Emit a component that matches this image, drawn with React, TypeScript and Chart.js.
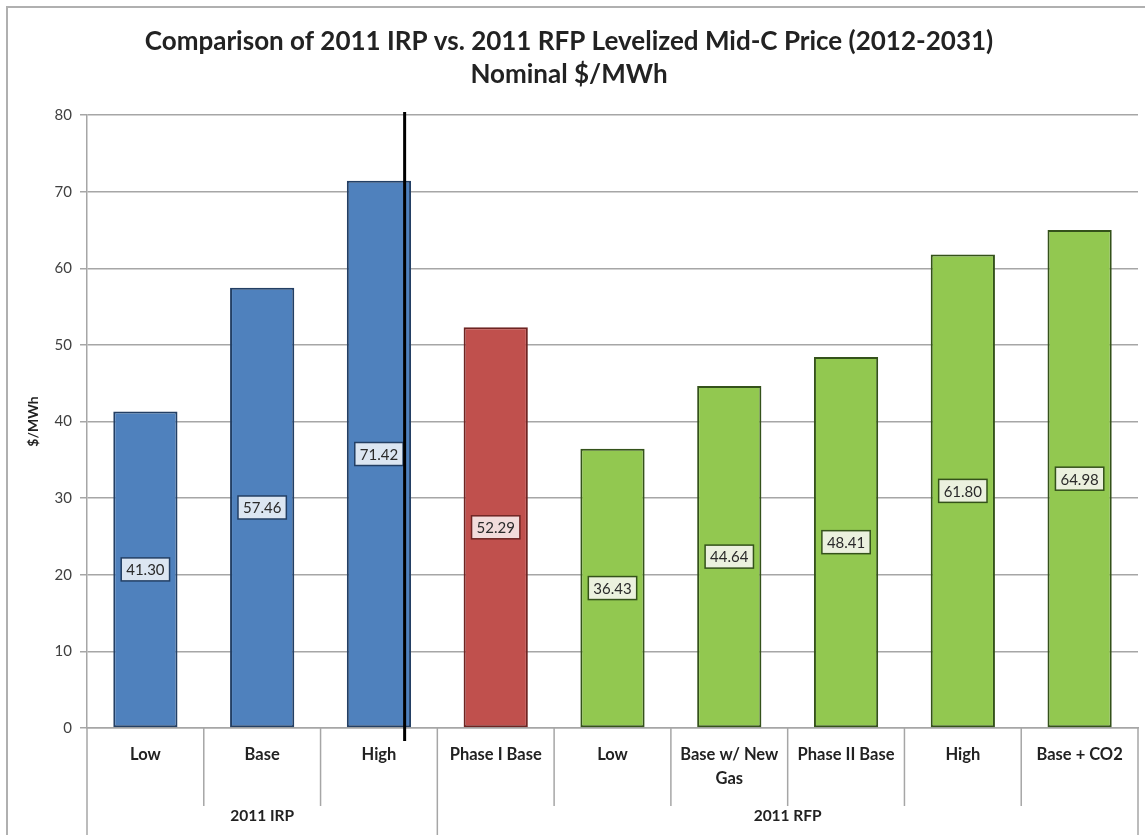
import React, { useEffect, useRef } from "react";
import { Chart, registerables } from "chart.js";

Chart.register(...registerables);

// ---------- data ----------
const TITLE_LINES = [
  "Comparison of 2011 IRP vs. 2011 RFP Levelized Mid-C Price (2012-2031)",
  "Nominal $/MWh",
];
const Y_TITLE = "$/MWh";
const CATEGORIES: (string | string[])[] = [
  "Low",
  "Base",
  "High",
  "Phase I Base",
  "Low",
  ["Base w/ New", "Gas"],
  "Phase II Base",
  "High",
  "Base + CO2",
];
const VALUES = [41.3, 57.46, 71.42, 52.29, 36.43, 44.64, 48.41, 61.8, 64.98];
const GROUP_LABELS = ["2011 IRP", "2011 RFP"];
const GROUP_SIZES = [3, 6];
const Y_MIN = 0;
const Y_MAX = 80;
const Y_STEP = 10;
// vertical divider, in category units
const DIVIDER_AT = 2.22;

// ---------- styles ----------
const W = 1145;
const H = 835;
const FONT = "Lato, 'Open Sans', sans-serif";
const BLUE = "#4f81bd";
const RED = "#c0504d";
const GREEN = "#92c850";
const BAR_FILLS = [BLUE, BLUE, BLUE, RED, GREEN, GREEN, GREEN, GREEN, GREEN];
const BAR_BORDERS = [
  "#233f64", "#233f64", "#233f64", "#6e2422",
  "#34521a", "#34521a", "#34521a", "#34521a", "#34521a",
];
const LABEL_FILLS = [
  "#dce6f2", "#dce6f2", "#dce6f2", "#f2dcdb",
  "#ebf1de", "#ebf1de", "#ebf1de", "#ebf1de", "#ebf1de",
];
const GRID = "#a6a6a6";

const framePlugin = {
  id: "frame",
  beforeDraw(chart: any) {
    const ctx = chart.ctx;
    ctx.save();
    ctx.fillStyle = "#ffffff";
    ctx.fillRect(0, 0, chart.width, chart.height);
    ctx.strokeStyle = "#b0b0b0";
    ctx.lineWidth = 2;
    ctx.beginPath();
    ctx.moveTo(7, chart.height);
    ctx.lineTo(7, 7);
    ctx.lineTo(chart.width, 7);
    ctx.stroke();
    ctx.restore();
  },
};

const valueLabelPlugin = {
  id: "valueLabels",
  afterDatasetsDraw(chart: any) {
    const ctx = chart.ctx;
    const meta = chart.getDatasetMeta(0);
    meta.data.forEach((bar: any, i: number) => {
      const { x, y, base } = bar.getProps(["x", "y", "base"], true);
      const cy = (y + base) / 2;
      const text = VALUES[i].toFixed(2);
      ctx.save();
      ctx.font = `15px ${FONT}`;
      const w = ctx.measureText(text).width + 10;
      const h = 23;
      ctx.fillStyle = LABEL_FILLS[i];
      ctx.fillRect(x - w / 2, cy - h / 2, w, h);
      ctx.strokeStyle = BAR_BORDERS[i];
      ctx.lineWidth = 1.5;
      ctx.strokeRect(x - w / 2, cy - h / 2, w, h);
      ctx.fillStyle = "#2a2a2a";
      ctx.textAlign = "center";
      ctx.textBaseline = "middle";
      ctx.fillText(text, x, cy + 1);
      ctx.restore();
    });
  },
};

const axisDecorPlugin = {
  id: "axisDecor",
  afterDraw(chart: any) {
    const ctx = chart.ctx;
    const xs = chart.scales.x;
    const area = chart.chartArea;
    const n = CATEGORIES.length;
    const step = xs.getPixelForValue(1) - xs.getPixelForValue(0);
    const boundary = (i: number) => xs.getPixelForValue(i) - step / 2;
    const groupEdges: number[] = [0];
    GROUP_SIZES.forEach((s) => groupEdges.push(groupEdges[groupEdges.length - 1] + s));

    ctx.save();
    ctx.strokeStyle = GRID;
    ctx.lineWidth = 1.5;
    for (let i = 0; i <= n; i++) {
      const x = boundary(i);
      const isGroup = groupEdges.includes(i);
      ctx.beginPath();
      ctx.moveTo(x, area.bottom);
      ctx.lineTo(x, isGroup ? chart.height : area.bottom + 78);
      ctx.stroke();
    }
    // group labels
    ctx.fillStyle = "#222222";
    ctx.font = `bold 15.5px ${FONT}`;
    ctx.textAlign = "center";
    ctx.textBaseline = "middle";
    GROUP_LABELS.forEach((g, gi) => {
      const x0 = boundary(groupEdges[gi]);
      const x1 = boundary(groupEdges[gi + 1]);
      ctx.fillText(g, (x0 + x1) / 2, area.bottom + 88);
    });
    // divider line
    const i0 = Math.floor(DIVIDER_AT);
    const dx = xs.getPixelForValue(i0) + (DIVIDER_AT - i0) * step;
    ctx.strokeStyle = "#000000";
    ctx.lineWidth = 3;
    ctx.beginPath();
    ctx.moveTo(dx, area.top - 3);
    ctx.lineTo(dx, area.bottom + 13);
    ctx.stroke();
    ctx.restore();
  },
};

export default function App() {
  const ref = useRef<HTMLCanvasElement | null>(null);

  useEffect(() => {
    document.body.style.margin = "0";
    if (!ref.current) return;
    const chart = new Chart(ref.current, {
      type: "bar",
      data: {
        labels: CATEGORIES,
        datasets: [
          {
            data: VALUES,
            backgroundColor: BAR_FILLS,
            borderColor: BAR_BORDERS,
            borderWidth: 2,
            borderSkipped: false,
            barPercentage: 0.55,
            categoryPercentage: 1,
          },
        ],
      },
      options: {
        responsive: false,
        animation: false,
        devicePixelRatio: 1,
        layout: { padding: { left: 0, right: 7, top: 0, bottom: 0 } },
        plugins: {
          legend: { display: false },
          tooltip: { enabled: false },
          title: {
            display: true,
            text: TITLE_LINES,
            color: "#222222",
            font: { family: FONT, size: 26, weight: "bold", lineHeight: 1.27 },
            padding: { top: 25, bottom: 24 },
          },
        },
        scales: {
          x: {
            type: "category",
            grid: { display: false, drawTicks: false },
            border: { display: true, color: GRID, width: 1.5 },
            ticks: {
              color: "#222222",
              font: { family: FONT, size: 16.5, weight: "bold", lineHeight: 1.45 },
              padding: 15,
              maxRotation: 0,
              autoSkip: false,
            },
            afterFit: (s: any) => {
              s.height = 107;
            },
          },
          y: {
            min: Y_MIN,
            max: Y_MAX,
            ticks: {
              stepSize: Y_STEP,
              color: "#404040",
              font: { family: FONT, size: 15 },
              padding: 8,
            },
            grid: { color: GRID, lineWidth: 1.5, tickLength: 7 },
            border: { display: true, color: GRID, width: 1.5 },
            title: {
              display: true,
              text: Y_TITLE,
              color: "#222222",
              font: { family: FONT, size: 14, weight: "bold" },
              padding: { top: 25, bottom: 4 },
            },
            afterFit: (s: any) => {
              s.width = 87;
            },
          },
        },
      },
      plugins: [framePlugin, valueLabelPlugin, axisDecorPlugin],
    });
    return () => chart.destroy();
  }, []);

  return (
    <div style={{ width: W, height: H }}>
      <canvas ref={ref} width={W} height={H} style={{ display: "block" }} />
    </div>
  );
}
